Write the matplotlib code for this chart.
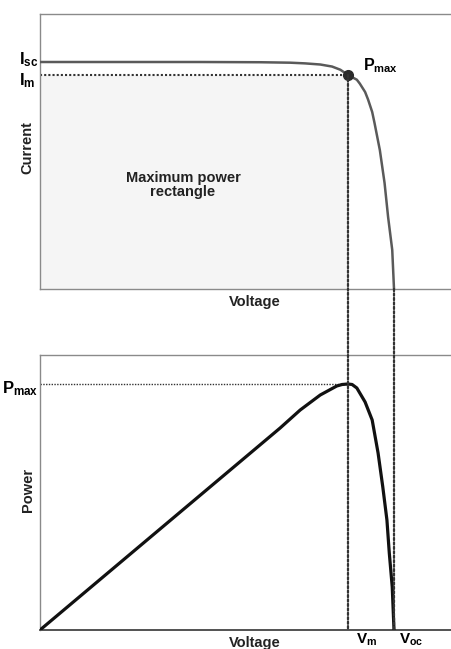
import matplotlib
matplotlib.use("Agg")
import matplotlib.pyplot as plt
from matplotlib.patches import Rectangle, ConnectionPatch

# ===================== data =====================
# I-V curve (arbitrary units, Voc = 0.60, Isc = 1.0)
iv_voltage = [0.000, 0.271, 0.373, 0.424, 0.449, 0.475, 0.495, 0.509, 0.522, 0.537,
              0.542, 0.551, 0.556, 0.563, 0.567, 0.576, 0.584, 0.590, 0.597, 0.600]
iv_current = [1.000, 1.000, 0.999, 0.997, 0.994, 0.989, 0.980, 0.966, 0.943, 0.922,
              0.905, 0.868, 0.835, 0.780, 0.731, 0.612, 0.467, 0.317, 0.172, 0.000]

# P-V curve
pv_voltage = [0.000, 0.407, 0.441, 0.475, 0.503, 0.512, 0.522, 0.529, 0.537, 0.551,
              0.563, 0.573, 0.581, 0.588, 0.592, 0.597, 0.600]
pv_power = [0.000, 0.404, 0.440, 0.470, 0.488, 0.491, 0.492, 0.491, 0.484, 0.456,
            0.420, 0.354, 0.286, 0.220, 0.154, 0.086, 0.000]

V_m, V_oc = 0.522, 0.600
I_sc, I_m = 1.000, 0.943
P_max = 0.492

# ===================== style =====================
plt.rcParams['font.family'] = ['Liberation Sans', 'DejaVu Sans']
plt.rcParams['font.weight'] = 'bold'
plt.rcParams['mathtext.fontset'] = 'custom'
plt.rcParams['mathtext.rm'] = 'Liberation Sans:bold'
plt.rcParams['mathtext.it'] = 'Liberation Sans:bold'
plt.rcParams['mathtext.bf'] = 'Liberation Sans:bold'

fig = plt.figure(figsize=(4.52, 6.49), dpi=100)
W, H = 452.0, 649.0

# axes boxes (pixels): left 40, width 430 (runs past the right edge)
ax1 = fig.add_axes([40 / W, 1 - 289 / H, 430 / W, 275 / H])
ax2 = fig.add_axes([40 / W, 1 - 630 / H, 430 / W, 275 / H])

vmax = 0.7288
for ax in (ax1, ax2):
    ax.set_xlim(0, vmax)
    ax.set_xticks([])
    ax.set_yticks([])
    for s in ax.spines.values():
        s.set_color('#8a8a8a')
        s.set_linewidth(1.0)
ax1.set_ylim(0, 1.2115)
ax2.set_ylim(0, 0.550)
ax2.spines['bottom'].set_color('#444444')
ax2.spines['bottom'].set_linewidth(1.3)

# ---------------- top: I-V ----------------
ax1.add_patch(Rectangle((0, 0), V_m, I_m, facecolor='#f5f5f5', edgecolor='none', zorder=0))
ax1.plot(iv_voltage, iv_current, color='#5a5a5a', lw=1.8, zorder=3,
         solid_joinstyle='round')
ax1.plot([0, V_m], [I_m, I_m], color='#333333', lw=1.5, ls=(0, (1, 1)), zorder=2)
ax1.plot([V_m], [I_m], 'o', color='#2a2a2a', ms=7, zorder=4)

ax1.text(-0.004, I_sc + 0.01, r'$I_{sc}$', transform=ax1.get_yaxis_transform(),
         ha='right', va='center', fontsize=12)
ax1.text(-0.012, I_m - 0.025, r'$I_{m}$', transform=ax1.get_yaxis_transform(),
         ha='right', va='center', fontsize=12)
ax1.text(0.547, 0.985, r'$P_{max}$', ha='left', va='center', fontsize=11.5)
ax1.text(0.2424, 0.458, 'Maximum power\nrectangle', ha='center', va='center',
         fontsize=10.5, fontweight='bold', linespacing=1.0, color='#222222')
ax1.text(0.5, -0.047, 'Voltage', transform=ax1.transAxes, ha='center', va='center',
         fontsize=10.5, fontweight='bold', color='#222222')
ax1.text(-0.030, 0.516, 'Current', transform=ax1.transAxes, ha='center', va='center',
         rotation=90, fontsize=10.5, fontweight='bold', color='#222222')

# ---------------- bottom: P-V ----------------
ax2.plot(pv_voltage, pv_power, color='#111111', lw=2.3, zorder=3,
         solid_joinstyle='round')
ax2.plot([0, V_m], [P_max, P_max], color='#333333', lw=1.0, ls=(0, (1, 1)), zorder=2)

ax2.text(-0.004, P_max - 0.01, r'$P_{max}$', transform=ax2.get_yaxis_transform(),
         ha='right', va='center', fontsize=12)
ax2.text(-0.028, 0.509, 'Power', transform=ax2.transAxes, ha='center', va='center',
         rotation=90, fontsize=10.5, fontweight='bold', color='#222222')
ax2.text(0.5, -0.022, 'Voltage', transform=ax2.transAxes, ha='center', va='top',
         fontsize=10.5, fontweight='bold', color='#222222')
ax2.text(0.553, -0.004, r'$V_{m}$', transform=ax2.get_xaxis_transform(),
         ha='center', va='top', fontsize=11)
ax2.text(0.629, -0.004, r'$V_{oc}$', transform=ax2.get_xaxis_transform(),
         ha='center', va='top', fontsize=11)

# ---------------- dotted drop lines across both panels ----------------
for (x0, y0) in [(V_m, I_m), (V_oc, 0)]:
    con = ConnectionPatch(xyA=(x0, y0), coordsA=ax1.transData,
                          xyB=(x0, 0), coordsB=ax2.transData,
                          color='#333333', lw=1.6, ls=(0, (1, 1)), zorder=1)
    fig.add_artist(con)

fig.savefig('out.png', dpi=100)
